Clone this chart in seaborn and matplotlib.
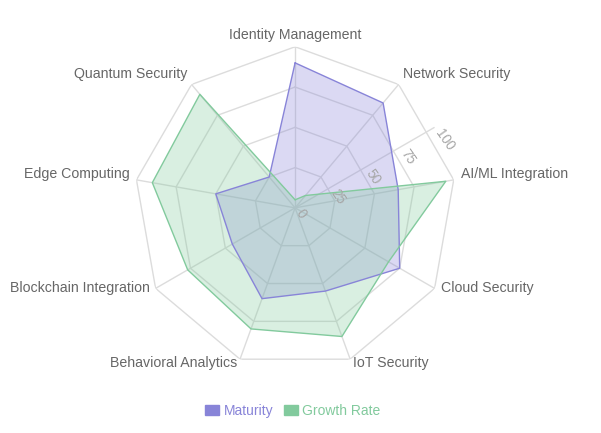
import numpy as np
import matplotlib.pyplot as plt
import seaborn as sns
from matplotlib.patches import Patch

# data
categories = ['Identity Management', 'Network Security', 'AI/ML Integration',
              'Cloud Security', 'IoT Security', 'Behavioral Analytics',
              'Blockchain Integration', 'Edge Computing', 'Quantum Security']
maturity = [90, 85, 65, 75, 55, 60, 45, 50, 25]
growth_rate = [5, 10, 95, 67, 85, 80, 77, 90, 92]
ticks = [0, 25, 50, 75, 100]

series_names = ['Maturity', 'Growth Rate']
series_colors = ['#8884d8', '#82ca9d']

sns.set_theme(style='white')
plt.rcParams['font.family'] = ['Liberation Sans', 'DejaVu Sans']

n = len(categories)
angles = np.linspace(0, 2 * np.pi, n, endpoint=False)
closed = np.append(angles, angles[0])

fig = plt.figure(figsize=(6.01, 4.33), dpi=100)
ax = fig.add_axes([0.223, 0.148, 0.536, 0.744], projection='polar')
ax.set_theta_offset(np.pi / 2)
ax.set_theta_direction(-1)
ax.set_ylim(0, 100)
ax.set_axis_off()

# polygon grid
grid_color = '#dcdcdc'
for t in ticks[1:]:
    ax.plot(closed, [t] * (n + 1), color=grid_color, lw=1, zorder=1)
for a in angles:
    ax.plot([a, a], [0, 100], color=grid_color, lw=1, zorder=1)

# radius axis with rotated tick labels
axis_angle = np.deg2rad(60)
ax.plot([axis_angle, axis_angle], [0, 100], color=grid_color, lw=1, zorder=1)
for t in ticks:
    ax.annotate(str(t), xy=(axis_angle, t), xytext=(4, -3), textcoords='offset pixels',
                rotation=-55, rotation_mode='anchor', ha='left', va='center',
                color='#a6a6a6', fontsize=9.8, annotation_clip=False, zorder=4)

# the two series
for vals, color in zip([maturity, growth_rate], series_colors):
    v = np.append(vals, vals[0])
    ax.fill(closed, v, color=color, alpha=0.3, lw=0, zorder=2)
    sns.lineplot(x=closed, y=v, sort=False, estimator=None, color=color,
                 lw=1, ax=ax, zorder=3)

# category labels
for a, lab in zip(angles, categories):
    s, c = np.sin(a), np.cos(a)
    if abs(s) < 0.1:
        ha = 'center'
    elif s > 0:
        ha = 'left'
    else:
        ha = 'right'
    ax.annotate(lab, xy=(a, 100), xytext=(7 * s, 4 + 8 * c), textcoords='offset pixels',
                ha=ha, va='center', color='#666666', fontsize=10.2, annotation_clip=False)

handles = [Patch(facecolor=c, edgecolor=c, label=name)
           for name, c in zip(series_names, series_colors)]
leg = fig.legend(handles=handles, loc='center', bbox_to_anchor=(0.4875, 0.051), ncol=2,
                 frameon=False, fontsize=10, handlelength=1.0, handleheight=0.8,
                 handletextpad=0.3, columnspacing=0.8)
for text, c in zip(leg.get_texts(), series_colors):
    text.set_color(c)

fig.savefig('out.png', dpi=100)
